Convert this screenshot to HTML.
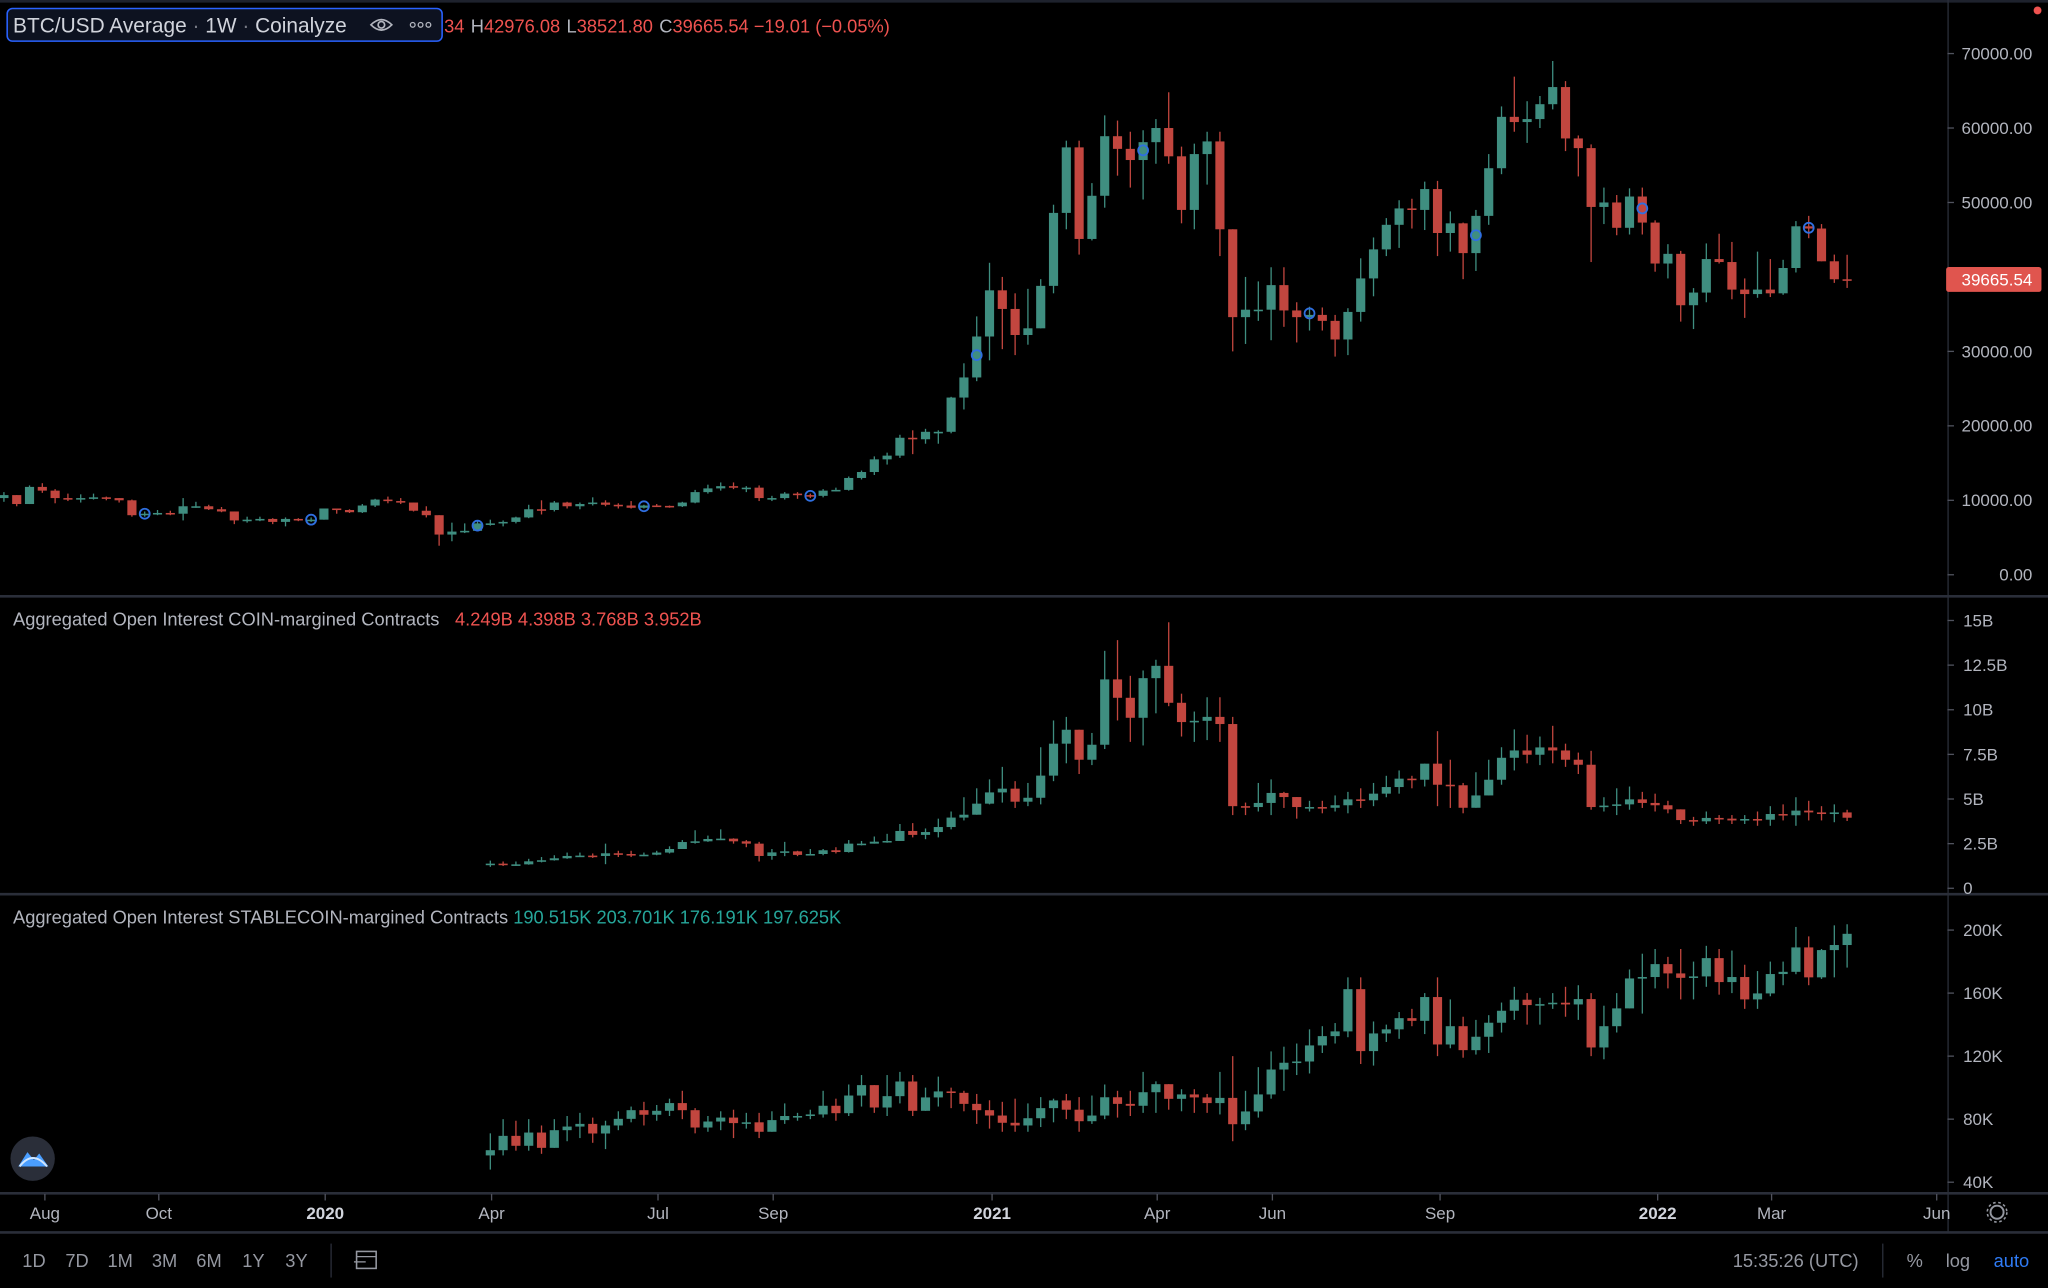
<!DOCTYPE html>
<html><head><meta charset="utf-8"><style>
html,body{margin:0;padding:0;background:#000;width:2048px;height:1288px;overflow:hidden}
svg{display:block}
text{font-family:"Liberation Sans",sans-serif}
</style></head><body>
<svg id="chart" width="2048" height="1288" viewBox="0 0 1568 986" preserveAspectRatio="none" xmlns="http://www.w3.org/2000/svg">
<rect x="0" y="0" width="1568" height="986" fill="#000"/>
<line x1="0" y1="1" x2="1568" y2="1" stroke="#1e222d" stroke-width="2"/>
<line x1="0" y1="456.5" x2="1568" y2="456.5" stroke="#2a2e39" stroke-width="2"/>
<line x1="0" y1="684.5" x2="1568" y2="684.5" stroke="#2a2e39" stroke-width="2"/>
<line x1="0" y1="913.5" x2="1568" y2="913.5" stroke="#2a2e39" stroke-width="2"/>
<line x1="0" y1="943.5" x2="1568" y2="943.5" stroke="#2a2e39" stroke-width="2"/>
<line x1="1491.5" y1="0" x2="1491.5" y2="943" stroke="#2a2e39" stroke-width="1"/>
<g id="btc"></g>
<g id="coin"></g>
<g id="stable"></g>
<g id="markers"></g>
<g id="axes"></g>
<g id="xaxis"></g>
<circle cx="1560" cy="8" r="3" fill="#ef5350"/>
<g>
<rect x="5.5" y="6.5" width="333" height="25" rx="4" fill="#0d1220" stroke="#2962ff" stroke-width="1.2"/>
<text x="10" y="25" font-size="16" fill="#d1d4dc">BTC/USD Average <tspan fill="#787b86">·</tspan> 1W <tspan fill="#787b86">·</tspan> Coinalyze</text>
<g><path d="M284 19 Q292 11 300 19 Q292 27 284 19Z" fill="none" stroke="#b2b5be" stroke-width="1.3"/><circle cx="292" cy="19" r="2.5" fill="none" stroke="#b2b5be" stroke-width="1.3"/></g>
<g><circle cx="316" cy="19" r="1.8" fill="none" stroke="#b2b5be"/><circle cx="322" cy="19" r="1.8" fill="none" stroke="#b2b5be"/><circle cx="328" cy="19" r="1.8" fill="none" stroke="#b2b5be"/></g>
<text x="340" y="25" font-size="14" fill="#ef5350">34 <tspan fill="#b2b5be" dx="1">H</tspan>42976.08 <tspan fill="#b2b5be" dx="1">L</tspan>38521.80 <tspan fill="#b2b5be" dx="1">C</tspan>39665.54 −19.01 (−0.05%)</text>
</g>
<text x="10" y="479" font-size="14" fill="#b2b5be">Aggregated Open Interest COIN-margined Contracts <tspan fill="#ef5350" dx="8">4.249B 4.398B 3.768B 3.952B</tspan></text>
<text x="10" y="707" font-size="14" fill="#b2b5be">Aggregated Open Interest STABLECOIN-margined Contracts <tspan fill="#26a69a" dx="0">190.515K 203.701K 176.191K 197.625K</tspan></text>
<g><circle cx="25" cy="887" r="17" fill="#2a2e39"/><path d="M14 893 L21 882 L26 888 L30 883 L37 893 Z" fill="#4a9eff"/><path d="M15 893 Q25 880 36 893" fill="none" stroke="#cfe6ff" stroke-width="1.5"/></g>
<g><circle cx="1529" cy="928" r="5" fill="none" stroke="#9598a1" stroke-width="1.5"/><circle cx="1529" cy="928" r="7.5" fill="none" stroke="#9598a1" stroke-width="1.2" stroke-dasharray="2 2"/></g>
<g font-size="14" fill="#9598a1">
<text x="26" y="970" text-anchor="middle">1D</text>
<text x="59" y="970" text-anchor="middle">7D</text>
<text x="92" y="970" text-anchor="middle">1M</text>
<text x="126" y="970" text-anchor="middle">3M</text>
<text x="160" y="970" text-anchor="middle">6M</text>
<text x="194" y="970" text-anchor="middle">1Y</text>
<text x="227" y="970" text-anchor="middle">3Y</text>
</g>
<line x1="253.5" y1="952" x2="253.5" y2="978" stroke="#2a2e39"/>
<g><rect x="273" y="958" width="15" height="13" fill="none" stroke="#9598a1" stroke-width="1.2"/><line x1="273" y1="962" x2="288" y2="962" stroke="#9598a1"/><line x1="271" y1="966" x2="280" y2="966" stroke="#9598a1"/></g>
<text x="1423" y="970" text-anchor="end" font-size="14" fill="#9598a1">15:35:26 (UTC)</text>
<line x1="1441.5" y1="952" x2="1441.5" y2="978" stroke="#2a2e39"/>
<text x="1466" y="970" text-anchor="middle" font-size="14" fill="#9598a1">%</text>
<text x="1499" y="970" text-anchor="middle" font-size="14" fill="#9598a1">log</text>
<text x="1540" y="970" text-anchor="middle" font-size="14" fill="#2f7bf5">auto</text>
</svg>
<script>
const btcFirstOpen = 10300;
const btcCloses = [10700,9500,11800,11300,10300,10100,10300,10400,10300,10000,8000,8200,8300,8200,9200,9200,8800,8500,7300,7400,7500,7100,7500,7300,7400,
8900,8700,8400,9300,10100,9900,9700,8600,8000,5400,5800,5900,6900,6900,7100,7700,8800,8700,9700,9200,9500,9700,9400,9300,9000,9300,9250,9200,9700,11100,11600,11900,11700,11700,10300,10300,10900,10700,10600,11300,11400,13000,13800,15500,16000,18400,18200,19200,19200,23800,26500,32000,
38200,35700,32200,33100,38800,48600,57400,45100,50900,58900,57200,55700,58100,60000,56200,49000,56500,58200,46400,34600,35600,35600,38900,35500,34600,34900,34100,31600,35300,39800,43700,47000,49200,49000,51800,45900,47200,43200,48200,54600,61500,60800,61200,63200,65500,58600,57300,49400,50000,46600,50800,47300,
41800,43100,36200,37900,42400,42000,38300,37700,38300,37800,41200,46800,46500,42100,39684.55,39665.54];
const btcHighs = [11100,10700,12000,12300,11500,10900,10800,10900,10500,10300,10100,8500,8700,8600,10300,9800,9400,9100,8500,7800,7800,7600,7700,7600,7700,
8500,8900,8800,9500,10200,10500,10300,9700,9200,8000,7000,6900,7200,7400,7300,7800,9400,10000,9900,9800,9700,10400,10000,9600,9900,9400,9500,9300,9800,11400,12100,12400,12400,11900,12000,10600,11100,11100,10900,11500,11700,13200,14000,15900,16400,18800,19400,19600,19400,23900,28400,34700,
41900,40000,37800,38400,39700,49700,58300,58300,52600,61700,61000,59500,59700,61200,64800,57500,57900,59500,59500,45800,40000,39400,41300,41300,36600,36000,35900,34900,35800,42500,45300,47900,50300,50500,52800,52900,48800,47300,49000,56500,62900,66900,63600,64300,69000,66300,59000,57800,52000,51000,51900,52000,
47600,44400,43500,38500,44500,45800,44700,39800,43400,42400,42300,47500,48200,47100,43000,42976];
const btcLows = [9800,9200,9500,11000,9600,9900,9700,10100,10000,9700,7800,7800,8000,8000,7300,9000,8700,8400,6800,7000,7200,6800,6500,7200,7100,
7400,8200,8300,8300,9100,9600,9500,8500,7700,3900,4500,5600,6000,6600,6500,6900,7600,8100,8500,8900,8800,9300,9200,8900,8900,8900,9100,9000,9100,9600,10900,11300,11500,11100,9900,9900,10100,10200,10300,10400,11200,11300,12800,13400,14800,15700,16200,17600,17600,19000,22200,26000,
28800,30300,29500,30900,33200,37800,46400,43000,44900,49300,53600,52000,50400,55200,55200,47200,46400,52400,42800,30000,31000,34100,31500,33300,31200,32800,32800,29300,29500,34000,37400,42800,43900,46500,46300,42800,43400,39700,40800,47000,53800,59500,58000,60000,62500,56900,53500,42000,47100,45600,45700,45700,
40700,39800,34000,33000,36600,41800,37000,34500,37200,37300,37600,40600,45200,42100,39200,38521.8];

const oiStartIndex = 38;
const coinFirstOpen = 1.30;
const coinCloses = [1.38,1.32,1.34,1.51,1.57,1.68,1.81,1.83,1.81,1.96,
1.92,1.88,1.88,2.0,2.2,2.59,2.63,2.76,2.78,2.63,
2.5,1.81,2.01,2.07,1.87,1.92,2.13,2.03,2.5,2.5,
2.61,2.65,3.21,2.99,3.15,3.43,3.96,4.12,4.74,5.37,
5.58,4.85,5.07,6.31,8.1,8.88,7.2,8.04,11.7,10.67,
9.55,11.77,12.46,10.39,9.31,9.38,9.6,9.2,4.6,4.55,
4.78,5.34,5.11,4.55,4.55,4.51,4.65,4.98,4.93,5.3,
5.67,6.14,6.08,6.98,5.8,5.77,4.51,5.2,6.08,7.31,
7.72,7.48,7.89,7.72,7.2,6.92,4.55,4.63,4.7,4.98,
4.78,4.65,4.42,3.82,3.75,3.94,3.9,3.8,3.88,3.84,
4.16,4.09,4.35,4.25,4.16,4.249,3.952];
const coinHighs = [1.55,1.5,1.5,1.65,1.75,1.85,2.0,2.0,1.95,2.5,
2.1,2.1,2.0,2.1,2.35,2.7,3.25,2.95,3.3,2.8,
2.7,2.6,2.2,2.6,2.1,2.2,2.2,2.3,2.7,2.65,
2.9,3.05,3.6,3.65,3.35,3.9,4.3,5.1,5.6,6.1,
6.8,6.0,5.9,7.9,9.4,9.6,8.3,8.7,13.3,13.9,
11.9,12.2,12.8,14.9,10.9,9.9,10.7,10.7,9.6,4.8,
5.9,6.1,5.4,4.9,4.9,4.9,5.2,5.4,5.6,5.9,
6.3,6.6,6.3,6.9,8.8,7.2,5.9,6.5,7.2,7.9,
8.9,8.6,8.5,9.1,8.1,7.6,7.7,5.1,5.6,5.7,
5.4,5.3,4.9,4.3,4.0,4.3,4.1,4.1,4.1,4.3,
4.6,4.7,5.1,4.9,4.6,4.7,4.398];
const coinLows = [1.2,1.25,1.25,1.32,1.45,1.55,1.65,1.75,1.7,1.35,
1.75,1.75,1.8,1.85,1.95,2.3,2.5,2.6,2.7,2.5,
2.3,1.5,1.6,1.8,1.8,1.85,1.85,1.95,2.0,2.4,
2.5,2.55,2.85,2.85,2.75,2.85,3.3,3.8,4.2,4.7,
4.8,4.5,4.6,4.7,6.0,7.0,6.4,6.9,7.8,9.4,
8.2,8.0,9.8,10.2,8.5,8.2,8.3,8.2,4.1,4.1,
4.3,4.1,4.5,3.9,4.3,4.2,4.3,4.2,4.5,4.6,
5.1,5.3,5.6,5.7,4.6,4.5,4.2,4.6,5.2,5.8,
6.6,7.0,6.9,7.0,6.8,6.4,4.4,4.3,4.1,4.4,
4.5,4.3,4.2,3.6,3.5,3.6,3.6,3.6,3.6,3.5,
3.5,3.8,3.5,3.8,3.8,3.7,3.768];

const stableFirstOpen = 57;
const stableCloses = [60.3,69.4,63.1,71.5,61.8,73,75.3,77,70.9,76,
80.2,85.7,82.8,85.3,90.2,85.7,74.7,78.5,81,77.5,
78,72,79.4,82,82,83,88.5,83.8,95,101.6,
87.4,94.6,103.9,85.3,93.8,97.6,96.7,89.7,85.7,82.3,
77.7,76,80.6,87,91.9,86,78.7,82.3,93.9,89.7,
88.5,97.1,102.2,92.9,95.7,93.8,90.2,93.5,76.8,84.9,
95.7,111.5,115.8,116.6,126.8,132.7,135.7,162.5,123.2,134.4,
137,144.1,142.4,157.5,127.4,139,123.8,132.3,141.2,148.8,
155.8,152.4,153,153.9,152.8,156.2,125.5,139,150.3,169.3,
170.2,178.4,172.5,169.7,170.6,182.2,167,170.2,156,159.8,
172.1,173.5,189,170,187.3,190.515,197.625];
const stableHighs = [71,80,79,80,76,80,82,84,81,79,
85,88,91,89,93,98,87,82,85,86,
84,84,85,90,84,86,98,93,102,108,
98,108,110,108,100,107,100,98,96,92,
91,93,90,94,93,96,94,95,102,98,
98,110,104,99,99,99,96,110,120,98,
113,123,126,128,137,139,141,170,170,142,
140,148,150,160,170,156,145,143,146,154,
164,160,157,160,164,165,160,152,160,175,
185,188,183,188,180,190,188,187,178,174,
180,180,202,196,188,203,203.701];
const stableLows = [48,57,60,60,58,63,66,68,65,61,
73,78,76,79,82,80,71,72,73,68,
74,68,72,77,79,80,81,79,82,88,
84,82,90,82,86,88,87,85,77,74,
72,72,72,75,78,80,72,77,80,81,
82,84,84,86,85,84,84,83,66,73,
81,93,98,108,109,122,128,132,115,114,
129,131,139,134,120,125,119,121,122,135,
143,140,140,150,145,143,120,118,135,160,
147,163,163,156,156,164,159,160,150,150,
158,165,172,165,169,170,176.191];

const markerIndex = [11,24,37,50,63,76,89,102,115,128,141];
const markerPrice = [8200,7400,6600,9200,10600,29500,57000,35100,45600,49200,46600];

const btcTicks = [0,10000,20000,30000,40000,50000,60000,70000];
const btcTickLabels = ['0.00','10000.00','20000.00','30000.00','40000.00','50000.00','60000.00','70000.00'];
const coinTicks = [0,2.5,5,7.5,10,12.5,15];
const coinTickLabels = ['0','2.5B','5B','7.5B','10B','12.5B','15B'];
const stableTicks = [40,80,120,160,200];
const stableTickLabels = ['40K','80K','120K','160K','200K'];
const timeLabels = ['Aug','Oct','2020','Apr','Jul','Sep','2021','Apr','Jun','Sep','2022','Mar','Jun'];
const timeLabelWeeks = [3.2,12.1,25.1,38.1,51.1,60.1,77.2,90.1,99.1,112.2,129.2,138.1,151.0];
const timeLabelBold = [false,false,true,false,false,false,true,false,false,false,true,false,false];

const NS = 'http://www.w3.org/2000/svg';
const UP = '#3f8e80', DOWN = '#c2463f';
function xOf(i){ return 3 + i * 9.8; }
function yBtc(v){ return 440 - (v / 70000) * 399; }
function yCoin(v){ return 680 - (v / 15) * 205; }
function yStable(v){ return 905 - ((v - 40) / 160) * 193; }

function drawCandles(gid, closes, highs, lows, firstOpen, startIdx, yFn, prefix){
  const g = document.getElementById(gid);
  for (let i = 0; i < closes.length; i++){
    const o = i === 0 ? firstOpen : closes[i-1];
    const c = closes[i];
    const h = Math.max(highs[i], o, c), l = Math.min(lows[i], o, c);
    const x = xOf(startIdx + i);
    const col = c >= o ? UP : DOWN;
    const w = document.createElementNS(NS, 'line');
    w.setAttribute('x1', x); w.setAttribute('x2', x);
    w.setAttribute('y1', yFn(h)); w.setAttribute('y2', yFn(l));
    w.setAttribute('stroke', col); w.setAttribute('stroke-width', '1');
    
    
    g.appendChild(w);
    const r = document.createElementNS(NS, 'rect');
    const yt = Math.min(yFn(o), yFn(c)), yb = Math.max(yFn(o), yFn(c));
    r.setAttribute('x', x - 3.5); r.setAttribute('width', 7);
    r.setAttribute('y', yt); r.setAttribute('height', Math.max(1.2, yb - yt));
    r.setAttribute('fill', col);
    
    
    g.appendChild(r);
  }
}
drawCandles('btc', btcCloses, btcHighs, btcLows, btcFirstOpen, 0, yBtc, 'btc');
drawCandles('coin', coinCloses, coinHighs, coinLows, coinFirstOpen, oiStartIndex, yCoin, 'coin-oi');
drawCandles('stable', stableCloses, stableHighs, stableLows, stableFirstOpen, oiStartIndex, yStable, 'stable-oi');

const mg = document.getElementById('markers');
for (let k = 0; k < markerIndex.length; k++){
  const m = document.createElementNS(NS, 'circle');
  m.setAttribute('cx', xOf(markerIndex[k])); m.setAttribute('cy', yBtc(markerPrice[k]));
  m.setAttribute('r', 3.8); m.setAttribute('fill', 'none');
  m.setAttribute('stroke', '#2f6fe0'); m.setAttribute('stroke-width', '1.4');
  
  
  mg.appendChild(m);
}

const ag = document.getElementById('axes');
function tickSet(ticks, labels, yFn, lx, anchor, prefix){
  for (let k = 0; k < ticks.length; k++){
    const y = yFn(ticks[k]);
    const t = document.createElementNS(NS, 'line');
    t.setAttribute('x1', 1491); t.setAttribute('x2', 1496); t.setAttribute('y1', y); t.setAttribute('y2', y);
    t.setAttribute('stroke', '#50535e');
    
    
    ag.appendChild(t);
    const tx = document.createElementNS(NS, 'text');
    tx.setAttribute('x', lx); tx.setAttribute('y', y + 4.5);
    tx.setAttribute('text-anchor', anchor); tx.setAttribute('font-size', '13');
    tx.setAttribute('fill', '#b2b5be');
    tx.textContent = labels[k];
    
    
    ag.appendChild(tx);
  }
}
tickSet(btcTicks, btcTickLabels, yBtc, 1556, 'end', 'btc-price');
tickSet(coinTicks, coinTickLabels, yCoin, 1503, 'start', 'coin-oi');
tickSet(stableTicks, stableTickLabels, yStable, 1503, 'start', 'stable-oi');

const lastClose = btcCloses[btcCloses.length - 1];
const tag = document.createElementNS(NS, 'rect');
tag.setAttribute('x', 1490); tag.setAttribute('y', yBtc(lastClose) - 9.5);
tag.setAttribute('width', 73); tag.setAttribute('height', 19); tag.setAttribute('rx', 2);
tag.setAttribute('fill', '#e0554e');


ag.appendChild(tag);
const tagText = document.createElementNS(NS, 'text');
tagText.setAttribute('x', 1556); tagText.setAttribute('y', yBtc(lastClose) + 4.5);
tagText.setAttribute('text-anchor', 'end'); tagText.setAttribute('font-size', '13'); tagText.setAttribute('fill', '#fff');
tagText.textContent = lastClose.toFixed(2);


ag.appendChild(tagText);

const xg = document.getElementById('xaxis');
for (let k = 0; k < timeLabels.length; k++){
  const x = xOf(timeLabelWeeks[k]);
  const t = document.createElementNS(NS, 'line');
  t.setAttribute('x1', x); t.setAttribute('x2', x); t.setAttribute('y1', 914); t.setAttribute('y2', 919);
  t.setAttribute('stroke', '#50535e');
  
  
  xg.appendChild(t);
  const tx = document.createElementNS(NS, 'text');
  tx.setAttribute('x', x); tx.setAttribute('y', 933);
  tx.setAttribute('text-anchor', 'middle'); tx.setAttribute('font-size', '13');
  tx.setAttribute('fill', timeLabelBold[k] ? '#d1d4dc' : '#b2b5be');
  if (timeLabelBold[k]) tx.setAttribute('font-weight', 'bold');
  tx.textContent = timeLabels[k];
  
  
  xg.appendChild(tx);
}
</script>
</body></html>
